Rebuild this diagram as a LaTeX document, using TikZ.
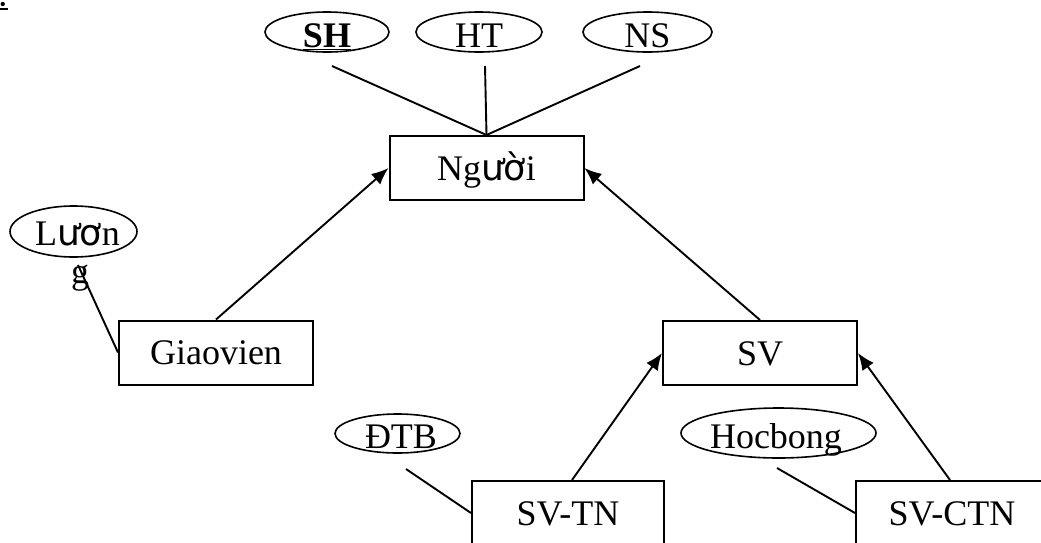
\documentclass[tikz,border=0pt]{standalone}
\usepackage{fontspec}
\setmainfont{Liberation Serif}
\newfontfamily\dvsans{DejaVu Sans}
\usetikzlibrary{shapes.geometric,arrows.meta}
\newcommand\erfont{\fontsize{36}{40}\selectfont}

\begin{document}
\begin{tikzpicture}[x=1pt,y=-1pt,
  entity/.style={draw,line width=2pt,rectangle,minimum width=194pt,
    minimum height=64pt,inner sep=0pt,text height=30pt,text depth=6pt,font=\erfont},
  attr/.style={draw,line width=1.6pt,ellipse,inner sep=0pt},
  atext/.style={inner sep=0pt,text height=30pt,text depth=0pt,font=\erfont},
  link/.style={line width=1.9pt},
  isa/.style={line width=1.9pt,-{Latex[length=17pt,width=14pt]}}]
\useasboundingbox (0,0) rectangle (1041,542);
\clip (0,0) rectangle (1041,542);

% stray mark in the corner
\fill (2.7,4) circle (2.2pt);
\draw[line width=1.6pt] (0,8.8) -- (8,8.8);

% entities
\node[entity] (nguoi) at (486.5,168) {Ng{\dvsans ườ}i};
\node[entity] (gv) at (216,352.5) {Giaovien};
\node[entity] (sv) at (760,353) {SV};
\node[entity,minimum width=192pt] (svtn) at (568,513) {SV-TN};
\node[entity,minimum width=192pt] (svctn) at (952,513) {SV-CTN};

% attributes
\node[attr,minimum width=124pt,minimum height=40pt] (sh) at (327,32) {};
\node[atext] (sh-t) at (sh.center) {\textbf{\underline{SH}}};
\node[attr,minimum width=126pt,minimum height=40pt] (ht) at (479,32) {};
\node[atext] (ht-t) at (ht.center) {HT};
\node[attr,minimum width=129pt,minimum height=40pt] (ns) at (647.5,32) {};
\node[atext] (ns-t) at (ns.center) {NS};
\node[attr,minimum width=127pt,minimum height=51pt] (luong) at (73.5,231.5) {};
\node[atext] (luong-t) at (77.5,230) {L{\dvsans ươ}n};
\node[atext] (luong-g) at (80,268) {g};
\node[attr,minimum width=125pt,minimum height=39pt] (dtb) at (397.5,433.5) {};
\node[atext] (dtb-t) at (401,433) {ĐTB};
\node[attr,minimum width=195pt,minimum height=50pt] (hb) at (778.5,433) {};
\node[atext] (hb-t) at (776,433) {Hocbong};

% attribute links
\coordinate (sh-e) at (332,66);
\coordinate (ht-e) at (485,66);
\coordinate (ns-e) at (640,66);
\coordinate (luong-e) at (78,265);
\coordinate (dtb-e) at (406,469);
\coordinate (hb-e) at (777,468);
\draw[link] (sh-e) -- (nguoi.north);
\draw[link] (ht-e) -- (nguoi.north);
\draw[link] (ns-e) -- (nguoi.north);
\draw[link] (luong-e) -- (gv.west);
\draw[link] (dtb-e) -- (svtn.west);
\draw[link] (hb-e) -- (svctn.west);

% specialisation arrows
\draw[isa] (gv.north) -- (nguoi.west);
\draw[isa] (sv.north) -- (nguoi.east);
\draw[isa] ([xshift=4pt]svtn.north) -- (sv.west);
\draw[isa] ([xshift=-2pt]svctn.north) -- (sv.east);
\end{tikzpicture}
\end{document}
